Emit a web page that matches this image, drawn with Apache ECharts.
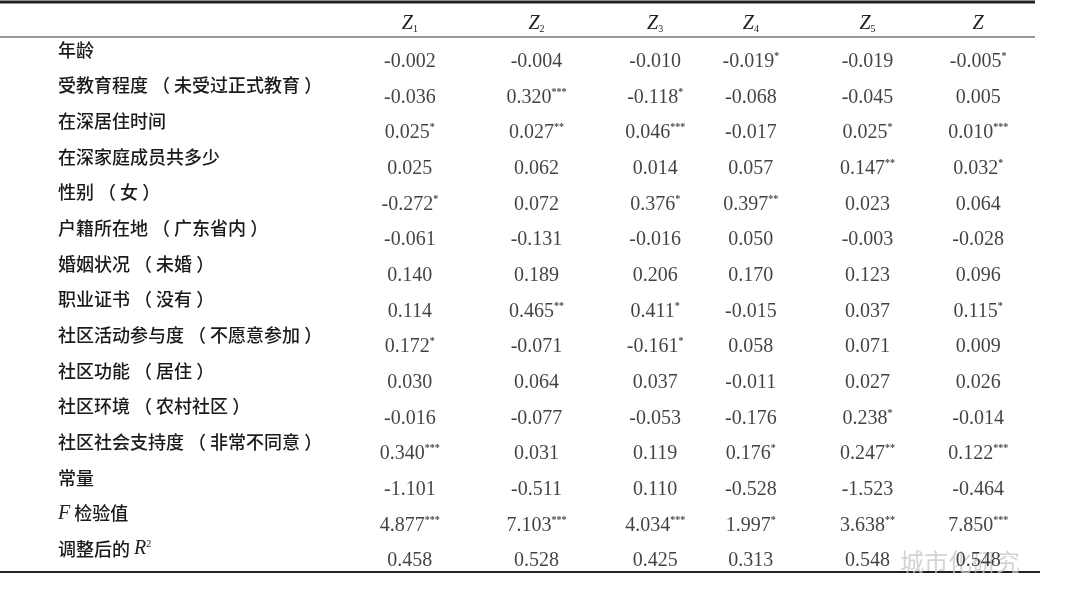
<!DOCTYPE html><html><head><meta charset="utf-8"><script src="https://cdn.jsdelivr.net/npm/echarts@6/dist/echarts.min.js"></script></head><body style="margin:0"><div id="c" style="width:1080px;height:613px"></div><script>
const columns=['Z1','Z2','Z3','Z4','Z5','Z'];
const rows=['年龄','受教育程度（未受过正式教育）','在深居住时间','在深家庭成员共多少','性别（女）','户籍所在地（广东省内）','婚姻状况（未婚）','职业证书（没有）','社区活动参与度（不愿意参加）','社区功能（居住）','社区环境（农村社区）','社区社会支持度（非常不同意）','常量','F检验值','调整后的R2'];
const Z1=['-0.002','-0.036','0.025*','0.025','-0.272*','-0.061','0.140','0.114','0.172*','0.030','-0.016','0.340***','-1.101','4.877***','0.458'];
const Z2=['-0.004','0.320***','0.027**','0.062','0.072','-0.131','0.189','0.465**','-0.071','0.064','-0.077','0.031','-0.511','7.103***','0.528'];
const Z3=['-0.010','-0.118*','0.046***','0.014','0.376*','-0.016','0.206','0.411*','-0.161*','0.037','-0.053','0.119','0.110','4.034***','0.425'];
const Z4=['-0.019*','-0.068','-0.017','0.057','0.397**','0.050','0.170','-0.015','0.058','-0.011','-0.176','0.176*','-0.528','1.997*','0.313'];
const Z5=['-0.019','-0.045','0.025*','0.147**','0.023','-0.003','0.123','0.037','0.071','0.027','0.238*','0.247**','-1.523','3.638**','0.548'];
const Zt=['-0.005*','0.005','0.010***','0.032*','0.064','-0.028','0.096','0.115*','0.009','0.026','-0.014','0.122***','-0.464','7.850***','0.548'];
const all=[Z1,Z2,Z3,Z4,Z5,Zt];
const colShift=[0,13,18,0,3,0];
const serif='Liberation Serif';
const cjk='Noto Sans CJK SC';
const ch=echarts.init(document.getElementById('c'));
const series=all.map((col,ci)=>({type:'scatter',symbolSize:0,data:col.map((v,ri)=>[ci,ri,v]),
  label:{show:true,position:'inside',offset:[colShift[ci],0],formatter:p=>{const s=p.value[2];const m=s.match(/^([^*]*)(\**)$/);return '{n|'+m[1]+'}'+(m[2]?'{st|'+m[2]+'}':'');},
   rich:{n:{fontFamily:serif,fontSize:20,color:'#111'},st:{fontFamily:serif,fontSize:10,fontWeight:'bold',color:'#111',padding:[0,0,11,0]}}}}));
const xr={s:{fontFamily:serif,fontSize:10,color:'#222',padding:[10,0,0,0]}};
colShift.forEach((d,i)=>{xr['z'+i]={fontFamily:serif,fontSize:20,fontStyle:'italic',color:'#222',padding:[0,0,0,2*d]};});
ch.setOption({
 animation:false,backgroundColor:'#fff',
 grid:{left:353,right:45,top:44,bottom:34},
 xAxis:{type:'category',position:'top',data:columns,axisLine:{show:false},axisTick:{show:false},
  axisLabel:{margin:10,formatter:(v,i)=>v.length>1?'{z'+i+'|Z}{s|'+v.slice(1)+'}':'{z'+i+'|Z}',rich:xr}},
 yAxis:{type:'category',inverse:true,data:rows,axisLine:{show:false},axisTick:{show:false},
  axisLabel:{align:'left',margin:295,padding:[0,0,24,0],
   formatter:v=>{if(v==='F检验值')return '{i|F}{t| 检验值}';if(v==='调整后的R2')return '{t|调整后的 }{i|R}{sup|2}';return '{t|'+v.replace(/（/g,' （ ').replace(/）/g,' ）')+'}';},
   rich:{t:{fontFamily:cjk,fontSize:18,fontWeight:500,color:'#1a1a1a'},i:{fontFamily:serif,fontSize:20,fontStyle:'italic',color:'#222'},sup:{fontFamily:serif,fontSize:10,color:'#222',padding:[0,0,10,0]}}}},
 series:series,
 graphic:[
  {type:'line',shape:{x1:0,y1:2,x2:1035,y2:2},style:{stroke:'#222',lineWidth:3}},
  {type:'line',shape:{x1:0,y1:37,x2:1035,y2:37},style:{stroke:'#333',lineWidth:1.2}},
  {type:'line',shape:{x1:0,y1:572,x2:1040,y2:572},style:{stroke:'#222',lineWidth:2}},
  {type:'text',left:900,top:550,style:{text:'城市化研究',font:'24px "Noto Sans CJK SC"',fill:'rgba(200,200,200,0.8)'}}
 ]
});
</script></body></html>
